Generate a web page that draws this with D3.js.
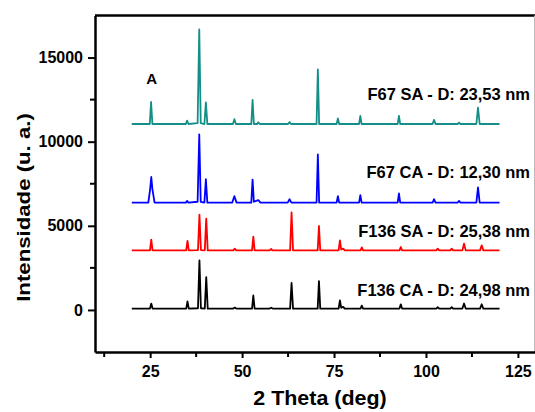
<!DOCTYPE html>
<html lang="pt">
<head>
  <meta charset="UTF-8" />
  <title>DRX - F67 / F136</title>
  <script src="https://d3js.org/d3.v7.min.js"></script>
  <style>
    body { margin: 0; background: white; }
    svg { display: block; font-family: Arial, "Liberation Sans", Helvetica, sans-serif; font-weight: bold; }
    .axis path, .axis line { stroke: #000; }
    .axis path { stroke-width: 2.5; }
    .axis line { stroke-width: 2; }
    .axis text { font-size: 16px; font-weight: bold; fill: #000; }
  </style>
</head>
<body>
<svg id="chart" width="535" height="412"></svg>
<script>
// 2 Theta (deg) vs intensidade, curvas deslocadas como na figura
const xTicks = [25, 50, 75, 100, 125];
const xMinor = [12.5, 37.5, 62.5, 87.5, 112.5];
const yTicks = [0, 5000, 10000, 15000];
const yMinor = [2500, 7500, 12500];

const seriesNames = ["F67 SA - D: 23,53 nm", "F67 CA - D: 12,30 nm", "F136 SA - D: 25,38 nm", "F136 CA - D: 24,98 nm"];
const seriesColors = ["#148f88", "#0000ff", "#ff0000", "#000000"];
// posicao das legendas [2theta, intensidade]
const labelAnchors = [[128.3, 12480], [128.3, 7840], [128.3, 4320], [128.3, 830]];

const f67sa = [
  [20, 11050],
  [24.9, 11050], [25.25, 12360], [25.6, 11050],
  [34.7, 11050], [35.05, 11250], [35.4, 11050],
  [37.9, 11100], [38.35, 16680], [38.75, 11100],
  [39.75, 11050], [40.15, 12340], [40.55, 11050],
  [47.5, 11050], [47.9, 11340], [48.3, 11050],
  [52.5, 11050], [52.85, 12480], [53.2, 11050],
  [54.1, 11050], [54.4, 11150], [54.8, 11050],
  [62.5, 11050], [62.9, 11160], [63.3, 11050],
  [70.25, 11050], [70.6, 14300], [70.95, 11050],
  [75.7, 11050], [76.05, 11380], [76.4, 11050],
  [81.8, 11050], [82.15, 11530], [82.5, 11050],
  [92.3, 11050], [92.65, 11530], [93.0, 11050],
  [101.8, 11050], [102.2, 11300], [102.6, 11050],
  [108.6, 11050], [109.0, 11130], [109.4, 11050],
  [113.7, 11050], [114.15, 12020], [114.6, 11050],
  [120, 11050]
];

const f67ca = [
  [20, 6380],
  [24.5, 6380], [25.0, 7200], [25.3, 7900], [25.6, 7200], [26.2, 6380],
  [34.7, 6380], [35.05, 6480], [35.4, 6380],
  [37.9, 6430], [38.35, 10430], [38.75, 6430],
  [39.75, 6380], [40.15, 7770], [40.55, 6380],
  [47.3, 6380], [47.9, 6760], [48.5, 6380],
  [52.5, 6380], [52.85, 7750], [53.2, 6430], [54.4, 6530], [55.0, 6380],
  [62.4, 6380], [62.9, 6580], [63.4, 6380],
  [70.25, 6380], [70.6, 9240], [70.95, 6380],
  [75.7, 6380], [76.05, 6760], [76.4, 6380],
  [81.8, 6380], [82.15, 6820], [82.5, 6380],
  [92.3, 6380], [92.65, 6920], [93.0, 6380],
  [101.8, 6380], [102.2, 6580], [102.6, 6380],
  [108.6, 6380], [109.0, 6480], [109.4, 6380],
  [113.7, 6380], [114.15, 7290], [114.6, 6380],
  [120, 6380]
];

const f136sa = [
  [20, 3540],
  [24.95, 3540], [25.3, 4180], [25.65, 3540],
  [34.8, 3540], [35.15, 4100], [35.5, 3540],
  [38.0, 3560], [38.4, 5670], [38.8, 3560],
  [39.85, 3540], [40.25, 5430], [40.65, 3540],
  [47.6, 3540], [48.0, 3640], [48.4, 3540],
  [52.7, 3540], [53.05, 4360], [53.4, 3540],
  [57.5, 3540], [57.9, 3620], [58.3, 3540],
  [63.05, 3540], [63.45, 5790], [63.85, 3540],
  [70.55, 3540], [70.9, 4990], [71.25, 3540],
  [76.25, 3540], [76.6, 4140], [76.95, 3590], [77.5, 3640], [77.9, 3540],
  [82.2, 3540], [82.55, 3720], [82.9, 3540],
  [92.8, 3540], [93.15, 3740], [93.5, 3540],
  [102.8, 3540], [103.2, 3640], [103.6, 3540],
  [106.6, 3540], [107.0, 3640], [107.4, 3540],
  [109.9, 3540], [110.35, 3940], [110.8, 3540],
  [114.7, 3540], [115.15, 3840], [115.6, 3540],
  [120, 3540]
];

const f136ca = [
  [20, 80],
  [24.95, 80], [25.3, 380], [25.65, 80],
  [34.8, 80], [35.15, 510], [35.5, 80],
  [38.0, 100], [38.4, 2950], [38.8, 100],
  [39.85, 80], [40.25, 1950], [40.65, 80],
  [47.6, 80], [48.0, 140], [48.4, 80],
  [52.7, 80], [53.05, 860], [53.4, 80],
  [57.5, 80], [57.9, 130], [58.3, 80],
  [63.05, 80], [63.45, 1600], [63.85, 80],
  [70.55, 80], [70.9, 1710], [71.25, 80],
  [76.25, 80], [76.6, 570], [76.95, 130], [77.5, 180], [77.9, 80],
  [82.2, 80], [82.55, 260], [82.9, 80],
  [92.8, 80], [93.15, 330], [93.5, 80],
  [102.8, 80], [103.2, 160], [103.6, 80],
  [106.6, 80], [107.0, 160], [107.4, 80],
  [109.9, 80], [110.35, 380], [110.8, 80],
  [114.7, 80], [115.15, 340], [115.6, 80],
  [120, 80]
];

const allSeries = [f67sa, f67ca, f136sa, f136ca];

const svg = d3.select("#chart");
const plotLeft = 95, plotTop = 15.5, plotBottom = 352, plotRight = 536.3;

const x = d3.scaleLinear().domain([10, 130]).range([plotLeft, plotRight]);
const y = d3.scaleLinear().domain([-2500, 17500]).range([plotBottom, plotTop]);

// moldura superior e direita
svg.append("line").attr("x1", plotLeft).attr("x2", 535).attr("y1", plotTop).attr("y2", plotTop)
  .attr("stroke", "#000").attr("stroke-width", 2.5);
svg.append("line").attr("x1", 534.5).attr("x2", 534.5).attr("y1", plotTop).attr("y2", plotBottom)
  .attr("stroke", "#bbb").attr("stroke-width", 1);

// eixo x
const gx = svg.append("g").attr("class", "axis").attr("transform", `translate(0,${plotBottom})`)
  .call(d3.axisBottom(x).tickValues(xTicks).tickSize(6).tickSizeOuter(0).tickPadding(8));
gx.selectAll(".minor").data(xMinor).join("line").attr("class", "minor")
  .attr("x1", d => x(d)).attr("x2", d => x(d)).attr("y1", 0).attr("y2", 5);

// eixo y
const gy = svg.append("g").attr("class", "axis").attr("transform", `translate(${plotLeft},0)`)
  .call(d3.axisLeft(y).tickValues(yTicks).tickSize(7).tickSizeOuter(0).tickPadding(5).tickFormat(d3.format("d")));
gy.selectAll(".minor").data(yMinor).join("line").attr("class", "minor")
  .attr("y1", d => y(d)).attr("y2", d => y(d)).attr("x1", 0).attr("x2", -5);

// curvas
const line = d3.line().x(d => x(d[0])).y(d => y(d[1]));
svg.append("g").selectAll("path").data(allSeries).join("path")
  .attr("d", line)
  .attr("fill", "none")
  .attr("stroke", (d, i) => seriesColors[i])
  .attr("stroke-width", 1.8)
  .attr("stroke-linejoin", "round");

// legendas
svg.append("g").selectAll("text").data(seriesNames).join("text")
  .attr("x", (d, i) => x(labelAnchors[i][0]))
  .attr("y", (d, i) => y(labelAnchors[i][1]))
  .attr("text-anchor", "end")
  .attr("font-size", 16.5)
  .attr("fill", "#000")
  .text(d => d);

svg.append("text").attr("x", x(25.4)).attr("y", y(13410))
  .attr("text-anchor", "middle").attr("font-size", 15).text("A");

// titulos dos eixos
svg.append("text")
  .attr("transform", "translate(320,405) scale(1.1,1)")
  .attr("text-anchor", "middle").attr("font-size", 19.5)
  .text("2 Theta (deg)");

svg.append("text")
  .attr("transform", "translate(29.5,207.5) rotate(-90) scale(1.2,1)")
  .attr("text-anchor", "middle").attr("font-size", 18.5)
  .text("Intensidade (u. a.)");
</script>
</body>
</html>
